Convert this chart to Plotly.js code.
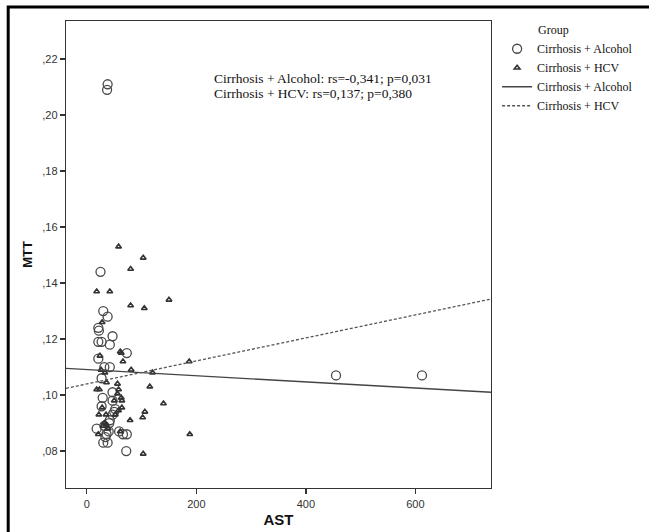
<!DOCTYPE html>
<html>
<head>
<meta charset="utf-8">
<script src="https://cdn.plot.ly/plotly-3.0.1.min.js"></script>
<style>html,body{margin:0;padding:0;background:#fff;}#chart{width:649px;height:532px;}</style>
</head>
<body>
<div id="chart"></div>
<script>
// Cirrhosis + Alcohol (circles)
const alcoholAST = [38, 37, 25, 30, 38, 21, 22, 47, 21, 27, 42, 73, 21, 32, 42, 27, 47, 29, 47, 27, 52, 50, 47, 42, 41, 32, 18, 36, 30, 38, 59, 66, 73, 72, 34, 40, 455, 612];
const alcoholMTT = [0.211, 0.209, 0.144, 0.130, 0.128, 0.124, 0.123, 0.121, 0.119, 0.119, 0.118, 0.115, 0.113, 0.110, 0.110, 0.106, 0.101, 0.099, 0.098, 0.096, 0.095, 0.094, 0.093, 0.091, 0.090, 0.089, 0.088, 0.086, 0.083, 0.083, 0.087, 0.086, 0.086, 0.080, 0.085, 0.087, 0.107, 0.107];
// Cirrhosis + HCV (triangles)
const hcvAST = [58, 103, 80, 18, 42, 150, 80, 105, 28, 61, 63, 66, 187, 81, 120, 26, 33, 36, 18, 23, 56, 58, 115, 63, 64, 50, 28, 64, 106, 22, 35, 102, 79, 21, 32, 103, 140, 61, 188, 24, 30, 39, 52, 58, 56, 35];
const hcvMTT = [0.153, 0.149, 0.145, 0.137, 0.137, 0.134, 0.132, 0.131, 0.126, 0.1155, 0.115, 0.112, 0.112, 0.109, 0.108, 0.109, 0.108, 0.1045, 0.102, 0.102, 0.104, 0.102, 0.103, 0.099, 0.098, 0.098, 0.0955, 0.0955, 0.094, 0.093, 0.093, 0.092, 0.091, 0.086, 0.090, 0.079, 0.097, 0.087, 0.086, 0.114, 0.089, 0.088, 0.093, 0.0945, 0.1005, 0.0895];
// Fit lines (endpoints at axis range)
const fitAlcoholAST = [-38, 738];
const fitAlcoholMTT = [0.1095, 0.1010];
const fitHcvAST = [-38, 738];
const fitHcvMTT = [0.1024, 0.1343];
// Ticks
const xTickVals = [0, 200, 400, 600];
const xTickText = ['0', '200', '400', '600'];
const yTickVals = [0.08, 0.10, 0.12, 0.14, 0.16, 0.18, 0.20, 0.22];
const yTickText = [',08', ',10', ',12', ',14', ',16', ',18', ',20', ',22'];
const groupNames = ['Cirrhosis + Alcohol', 'Cirrhosis + HCV'];
const statLines = ['Cirrhosis + Alcohol: rs=-0,341; p=0,031', 'Cirrhosis + HCV: rs=0,137; p=0,380'];

const serif = 'Liberation Serif, Times New Roman, serif';
const sans = 'Liberation Sans, Arial, sans-serif';

const traces = [
  {x: alcoholAST, y: alcoholMTT, type: 'scatter', mode: 'markers', name: groupNames[0],
   marker: {symbol: 'circle-open', size: 9, color: '#4a4a4a', line: {width: 1.3, color: '#4a4a4a'}}},
  {x: hcvAST, y: hcvMTT, type: 'scatter', mode: 'markers', name: groupNames[1],
   marker: {symbol: 'triangle-up-open', size: 5, color: '#333', line: {width: 1.6, color: '#333'}}},
  {x: fitAlcoholAST, y: fitAlcoholMTT, type: 'scatter', mode: 'lines', name: groupNames[0],
   line: {color: '#444', width: 1.3}},
  {x: fitHcvAST, y: fitHcvMTT, type: 'scatter', mode: 'lines', name: groupNames[1],
   line: {color: '#555', width: 1.3, dash: '3px,2px'}}
];

const layout = {
  width: 649, height: 532,
  margin: {l: 66, r: 157, t: 21, b: 44, pad: 0},
  paper_bgcolor: '#fff', plot_bgcolor: '#fff',
  font: {family: sans, size: 11, color: '#333'},
  showlegend: true,
  legend: {
    x: 1.012, xanchor: 'left', y: 1.005, yanchor: 'top',
    font: {family: serif, size: 12, color: '#111'},
    title: {text: '\u00A0\u00A0\u00A0\u00A0\u00A0\u00A0\u00A0\u00A0\u00A0\u00A0\u00A0\u00A0\u00A0Group', font: {family: serif, size: 12, color: '#111'}},
    bgcolor: 'rgba(0,0,0,0)', borderwidth: 0, tracegroupgap: 0
  },
  xaxis: {
    range: [-38, 738], tickvals: xTickVals, ticktext: xTickText,
    ticks: 'outside', ticklen: 5, tickwidth: 1.3, tickcolor: '#333',
    showline: true, linecolor: '#333', linewidth: 1.3, mirror: true,
    showgrid: false, zeroline: false,
    tickfont: {family: sans, size: 11, color: '#333'},
    title: {text: '<b>AST</b>', font: {family: sans, size: 15, color: '#111'}, standoff: 6}
  },
  yaxis: {
    range: [0.0668, 0.2336], tickvals: yTickVals, ticktext: yTickText,
    ticks: 'outside', ticklen: 5, tickwidth: 1.3, tickcolor: '#333',
    showline: true, linecolor: '#333', linewidth: 1.3, mirror: true,
    showgrid: false, zeroline: false,
    tickfont: {family: sans, size: 11, color: '#333'},
    title: {text: '<b>MTT</b>', font: {family: sans, size: 13, color: '#111'}, standoff: 6}
  },
  annotations: [
    {text: statLines[0], xref: 'paper', yref: 'paper', x: 0.343, y: (488 - 78) / 467,
     xanchor: 'left', yanchor: 'middle', align: 'left', showarrow: false,
     font: {family: serif, size: 13.5, color: '#111'}},
    {text: statLines[1], xref: 'paper', yref: 'paper', x: 0.343, y: (488 - 94) / 467,
     xanchor: 'left', yanchor: 'middle', align: 'left', showarrow: false,
     font: {family: serif, size: 13.5, color: '#111'}}
  ],
  shapes: [
    {type: 'rect', xref: 'paper', yref: 'paper', x0: -0.136, x1: 2, y0: -0.3, y1: 1.03,
     line: {color: '#000', width: 3}, fillcolor: 'rgba(0,0,0,0)', layer: 'above'}
  ]
};

Plotly.newPlot('chart', traces, layout, {displayModeBar: false, staticPlot: true});
</script>
</body>
</html>
